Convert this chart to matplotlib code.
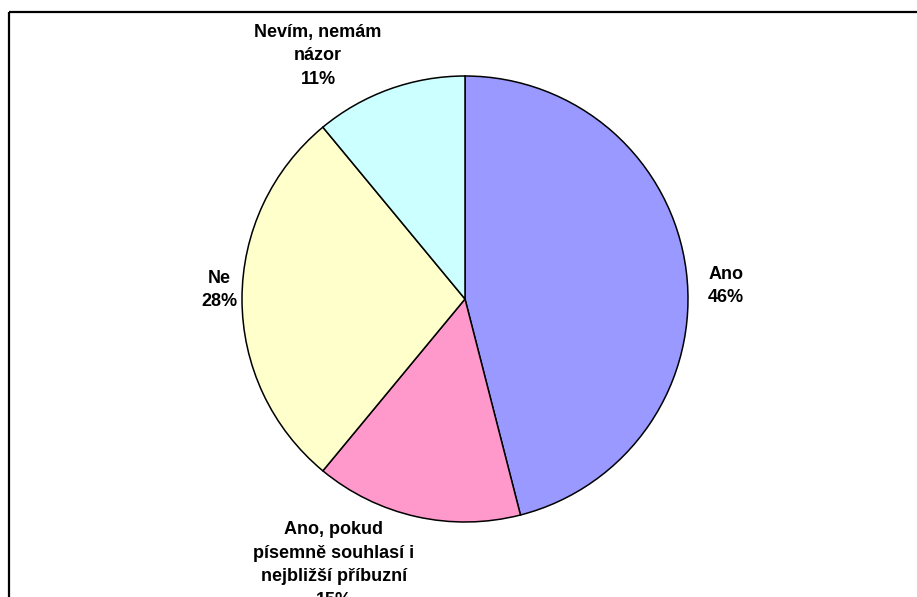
import matplotlib
matplotlib.use("Agg")
import matplotlib.pyplot as plt
from matplotlib.patches import Rectangle

# Survey answers and their shares (%)
categories = ["Ano", "Ano, pokud\npísemně souhlasí i\nnejbližší příbuzní", "Ne", "Nevím, nemám\nnázor"]
shares = [46, 15, 28, 11]
colors = ["#9999FF", "#FF99CC", "#FFFFCC", "#CCFFFF"]

W, H = 917, 597
fig = plt.figure(figsize=(W / 100, H / 100), dpi=100)
ax = fig.add_axes([0, 0, 1, 1])

def py(y):
    # convert a top-down pixel row into data y
    return H - y

cx, cy, radius = 465, py(299), 223

wedges, _ = ax.pie(
    shares,
    colors=colors,
    startangle=90,
    counterclock=False,
    center=(cx, cy),
    radius=radius,
    wedgeprops=dict(edgecolor="black", linewidth=1.1),
    frame=True,
)
ax.set_xlim(0, W)
ax.set_ylim(0, H)
ax.set_aspect("auto")
ax.axis("off")

# label anchor points (pixel coordinates of each label's centre)
label_pos = [(726, 286), (334, 565), (219, 290), (318, 56)]
for name, val, (lx, ly) in zip(categories, shares, label_pos):
    ax.text(lx, py(ly), f"{name}\n{val}%", ha="center", va="center",
            fontsize=13, fontweight="bold", family="Liberation Sans",
            linespacing=1.5, color="black")

# chart frame
ax.add_patch(Rectangle((9, py(12)), W + 20, -(H + 20), fill=False,
                       edgecolor="black", linewidth=1.6, clip_on=False))

fig.savefig("out.png", dpi=100, facecolor="white")
